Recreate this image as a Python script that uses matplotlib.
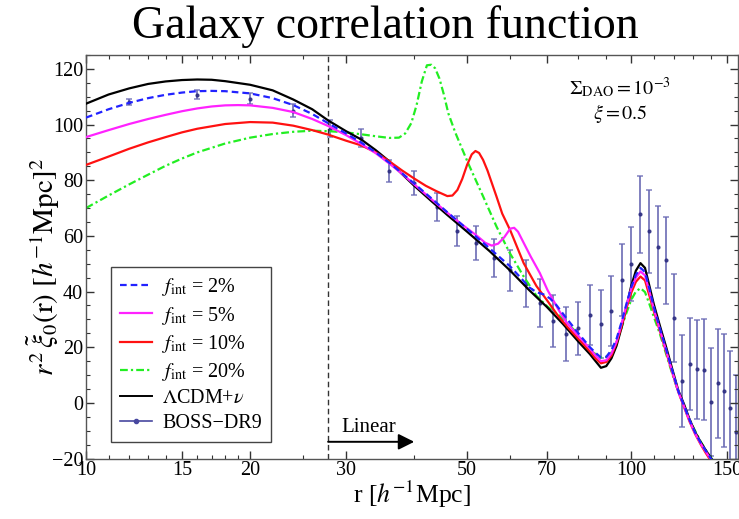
import matplotlib
matplotlib.use("Agg")
import matplotlib.pyplot as plt
from matplotlib.lines import Line2D
from matplotlib.ticker import FixedLocator, NullFormatter

plt.rcParams['font.family'] = ['Liberation Serif', 'DejaVu Serif']
plt.rcParams['mathtext.fontset'] = 'stix'

# ---------------- data ----------------
r_black = [10, 11, 12, 13, 14, 15, 16, 17, 18, 20, 22, 24, 26, 27.8, 30, 32, 34, 36, 38, 40, 43, 46, 50, 55,
           60, 65, 70, 75, 80, 84, 86, 88, 90, 92, 94, 96, 98, 100, 102, 104, 106, 108, 110, 113, 116, 119,
           122, 125, 128, 131, 134, 137, 140, 142]
v_black = [107.5, 110.8, 113.0, 114.6, 115.5, 116.0, 116.2, 116.1, 115.6, 114.3, 112.3, 109.0, 105.5, 101.5,
           97.6, 94.6, 90.8, 86.8, 82.2, 78.0, 72.5, 67.5, 61.5, 54.5, 47.5, 40.5, 34.5, 28.3, 22.0, 17.5, 15.0,
           12.6, 13.2, 16.0, 20.5, 27.0, 34.5, 42.0, 47.5, 50.2, 48.5, 42.0, 35.5, 27.4, 19.8, 12.0, 4.5, -0.5,
           -6.0, -10.5, -14.0, -17.0, -19.8, -21.5]

r_f2 = [10, 11, 12, 13, 14, 15, 16, 17, 18, 20, 22, 24, 26, 27.8, 30, 32, 34, 36, 38, 40, 43, 46, 50, 55, 60,
        63, 65, 67, 69, 71, 73, 76, 80, 84, 86, 88, 90, 92, 94, 96, 98, 100, 102, 104, 106, 108, 110, 113,
        116, 119, 122, 125, 128, 131, 134, 137, 140, 142]
v_f2 = [102.5, 105.5, 107.8, 109.5, 110.7, 111.5, 112.0, 112.1, 112.0, 111.2, 109.5, 107.0, 103.8, 100.5, 96.8,
        93.5, 90.0, 86.3, 82.5, 78.8, 73.5, 68.5, 62.5, 55.5, 49.0, 44.5, 41.5, 39.8, 39.0, 37.5, 35.0, 30.5,
        25.0, 20.0, 18.0, 16.3, 16.5, 19.0, 23.0, 29.0, 35.5, 41.5, 46.0, 48.5, 47.0, 41.0, 34.5, 26.5, 19.0,
        11.5, 4.2, -1.0, -6.2, -10.7, -14.2, -17.2, -20.0, -21.5]

r_f5 = [10, 11, 12, 13, 14, 15, 16, 17, 18, 19, 20, 22, 24, 26, 27.8, 30, 32, 34, 36, 38, 40, 43, 46, 49, 52,
        54, 55.5, 57, 58.5, 60, 61, 62, 63.5, 65.4, 68, 70.2, 73.6, 76, 80, 84, 86, 88, 90, 92, 94, 96, 98,
        100, 102, 104, 106, 108, 110, 113, 116, 119, 122, 125, 128, 131, 134, 137, 140, 142]
v_f5 = [95.5, 98.0, 100.2, 102.0, 103.5, 104.8, 105.8, 106.5, 106.9, 107.0, 106.9, 106.0, 104.5, 102.0, 99.5,
        96.2, 93.0, 89.7, 86.0, 82.3, 78.5, 73.2, 68.3, 64.0, 60.2, 57.5, 56.5, 57.2, 59.5, 62.6, 62.9, 61.5,
        57.5, 52.6, 46.6, 40.6, 33.4, 29.0, 24.0, 19.5, 17.0, 15.0, 15.3, 17.8, 22.0, 28.5, 35.0, 41.0, 45.0,
        47.2, 45.8, 40.0, 33.8, 26.0, 18.5, 11.0, 4.0, -1.3, -6.5, -11.0, -14.5, -17.5, -20.3, -22.0]

r_f10 = [10, 11, 12, 13, 14, 15, 16, 18, 20, 22, 24, 26, 27.8, 30, 32, 34, 36, 38, 40, 42, 44, 46, 47, 48, 49,
         50, 51, 51.8, 52.6, 53.5, 54.5, 56.6, 58, 60, 63.5, 67, 70, 73.6, 77, 80, 84, 86, 88, 90, 92, 94, 96,
         98, 100, 102, 104, 106, 108, 110, 113, 116, 119, 122, 125, 128, 131, 134, 137, 140, 142]
v_f10 = [85.5, 88.5, 91.3, 93.6, 95.5, 97.2, 98.5, 100.2, 100.9, 100.7, 99.6, 98.0, 96.4, 94.2, 92.5, 90.0,
         86.8, 83.5, 80.6, 78.0, 76.0, 74.3, 74.5, 76.5, 80.5, 85.5, 89.3, 90.5, 89.8, 87.3, 83.5, 74.2, 68.0,
         62.0, 50.2, 42.0, 37.0, 31.0, 26.5, 23.0, 18.5, 16.0, 14.2, 14.7, 17.0, 21.5, 27.5, 34.0, 39.5, 43.5,
         45.4, 44.0, 38.5, 33.0, 25.5, 18.0, 10.8, 4.0, -1.5, -6.8, -11.2, -14.8, -18.0, -20.8, -22.5]

r_f20 = [10, 11, 12, 13, 14, 15, 16, 18, 20, 22, 24, 26, 28, 30, 32, 34, 36, 37.5, 38.5, 39.5, 40.4, 41.3,
         42.2, 43, 43.7, 44.5, 45.3, 46.2, 47.6, 50.2, 53.5, 56.6, 59.9, 63.5, 67, 70.2, 73.6, 78.3, 82, 85,
         88, 90, 92, 94, 96, 98, 100, 102, 104, 106, 108, 110, 113, 116, 119, 122, 126.5, 130, 134, 138, 141,
         143]
v_f20 = [70.0, 74.5, 78.5, 82.0, 85.2, 87.8, 90.0, 93.2, 95.3, 96.6, 97.4, 97.8, 97.6, 97.2, 96.5, 95.8, 95.2,
         95.3, 96.8, 100.5, 107.0, 115.5, 121.3, 121.5, 120.2, 116.5, 111.0, 104.0, 97.0, 86.2, 74.2, 63.4,
         53.8, 45.4, 38.5, 34.6, 31.5, 26.5, 21.5, 18.2, 16.3, 16.5, 18.2, 21.8, 27.0, 32.3, 37.0, 40.0, 41.2,
         39.8, 35.5, 31.0, 24.5, 17.3, 10.3, 4.0, -3.8, -8.8, -13.8, -18.0, -20.5, -22.0]

r_boss = [12, 16, 20, 24, 28, 32, 36, 40, 44, 48, 52, 56, 60, 64, 68, 72, 76, 80, 84, 88, 92, 96, 100, 104,
          108, 112, 116, 120, 124, 128, 132, 136, 140, 144, 148, 152, 156]
v_boss = [108.1, 110.8, 109.3, 105.0, 98.5, 95.2, 83.2, 79.0, 70.3, 61.6, 57.4, 52.0, 47.6, 42.8, 35.8, 29.5,
          24.7, 26.8, 31.5, 28.2, 33.0, 44.1, 49.9, 67.7, 61.6, 55.9, 51.2, 30.4, 7.9, 14.0, 12.1, 11.9, 0.2,
          7.0, 4.4, -2.0, -10.4]
e_boss = [1.2, 1.6, 1.9, 2.3, 3.0, 3.3, 4.0, 4.4, 5.0, 5.4, 6.1, 6.8, 7.4, 8.4, 8.7, 9.4, 9.7, 9.5, 10.7, 12.2,
          12.5, 13.0, 13.3, 13.9, 14.8, 14.8, 15.5, 15.9, 16.5, 16.5, 17.8, 18.1, 19.4, 19.5, 20.4, 20.5, 20.5]

r_linear = 27.8
x_major = [10, 15, 20, 30, 50, 70, 100, 150]
x_minor = [11, 12, 13, 14, 16, 17, 18, 19, 25, 40, 60, 80, 90, 110, 120, 130, 140]
y_major = [-20, 0, 20, 40, 60, 80, 100, 120]

# ---------------- figure ----------------
fig = plt.figure(figsize=(7.39, 5.19), dpi=100)
ax = fig.add_axes([86/739, 1 - 458.5/519, (738 - 86)/739, (458.5 - 55)/519])

ax.set_xscale('log')
ax.set_xlim(10, 157)
ax.set_ylim(-20, 125)

ax.errorbar(r_boss, v_boss, yerr=e_boss, fmt='o', ms=2.0, color='#2c2c80', ecolor='#6a6ab4',
            elinewidth=1.4, capsize=2.5, capthick=1.1, alpha=0.85, zorder=1)

ax.plot(r_f20, v_f20, color='#22ee22', lw=1.6, dashes=(3.5, 1.4, 1.0, 1.4), zorder=2)
ax.plot(r_black, v_black, color='black', lw=1.6, zorder=3)
ax.plot(r_f10, v_f10, color='#ff1111', lw=1.6, zorder=4)
ax.plot(r_f5, v_f5, color='#ff22ff', lw=1.6, zorder=5)
ax.plot(r_f2, v_f2, color='#2222ff', lw=1.6, dashes=(3, 1.8), zorder=6)

ax.axvline(r_linear, color='#333333', lw=1.0, dashes=(4, 2.5), zorder=1)
ax.annotate('', xy=(40, -14), xytext=(r_linear, -14),
            arrowprops=dict(arrowstyle='-|>', color='black', lw=1.4, mutation_scale=24,
                            shrinkA=0, shrinkB=0))
ax.text(29.4, -9.0, 'Linear', fontsize=15, ha='left', va='center')

ax.text(0.819, 0.918, r'$\Sigma_{\rm DAO} = 10^{-3}$', transform=ax.transAxes, fontsize=14.5,
        ha='center', va='center')
ax.text(0.819, 0.856, r'$\xi = 0.5$', transform=ax.transAxes, fontsize=14.5, ha='center', va='center')

# ticks
ax.xaxis.set_major_locator(FixedLocator(x_major))
ax.xaxis.set_minor_locator(FixedLocator(x_minor))
ax.set_xticklabels([str(v) for v in x_major])
ax.xaxis.set_minor_formatter(NullFormatter())
ax.yaxis.set_major_locator(FixedLocator(y_major))
ax.yaxis.set_minor_locator(FixedLocator(list(range(-20, 126, 5))))
ax.set_yticklabels(['\u221220' if v < 0 else str(v) for v in y_major])
ax.tick_params(which='both', direction='in', top=True, right=True, labelsize=14.5, colors='#333333',
               labelcolor='black')
ax.tick_params(which='major', length=6, width=1.0, pad=2)
ax.tick_params(which='minor', length=3, width=0.8)
for s in ax.spines.values():
    s.set_color('#555555')
    s.set_linewidth(1.0)

ax.set_xlabel(r'r [$h^{-1}$Mpc]', fontsize=18.5, va='center')
ax.xaxis.set_label_coords(0.5, -0.088)
ax.set_ylabel(r'$r^2\,\tilde{\xi}_0(\mathrm{r})\ [h^{-1}\mathrm{Mpc}]^2$', fontsize=21, va='center')
ax.yaxis.set_label_coords(-0.066, 0.475)

fig.text(385/739, 1 - 27/519, 'Galaxy correlation function', fontsize=33, ha='center', va='center')

handles = [
    Line2D([], [], color='#2222ff', lw=1.6, dashes=(3, 1.8)),
    Line2D([], [], color='#ff22ff', lw=1.6),
    Line2D([], [], color='#ff1111', lw=1.6),
    Line2D([], [], color='#22ee22', lw=1.6, dashes=(3.5, 1.4, 1.0, 1.4)),
    Line2D([], [], color='black', lw=1.4),
    Line2D([], [], color='#4848a0', lw=1.2, marker='o', ms=3),
]
labels = [r'$f_{\rm int}$ = 2%', r'$f_{\rm int}$ = 5%', r'$f_{\rm int}$ = 10%', r'$f_{\rm int}$ = 20%',
          r'$\Lambda$CDM+$\nu$', 'BOSS\u2212DR9']
leg = ax.legend(handles, labels, loc='lower left', bbox_to_anchor=(0.038, 0.041), borderaxespad=0,
                fontsize=14.5, frameon=True, fancybox=False, edgecolor='#444444', framealpha=1,
                handlelength=1.6, handletextpad=0.5, labelspacing=0.3, borderpad=0.45)
leg.get_frame().set_linewidth(1.0)

fig.savefig('out.png', dpi=100)
